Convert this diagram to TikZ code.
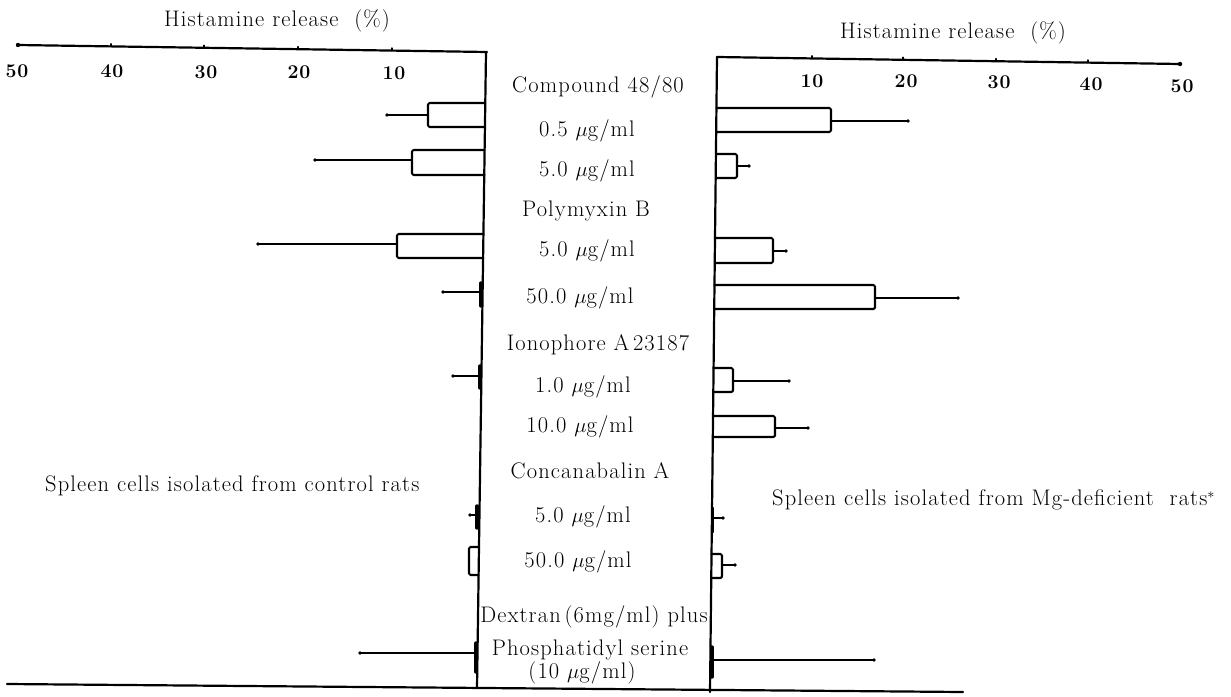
\documentclass[tikz,border=0pt]{standalone}
\usepackage{fontspec}
\setmainfont{Latin Modern Roman}[LetterSpace=5.0]
\newcommand{\LRbar}[6]{% base x, y1, y2, end x, whisker end x, whisker y
  \draw[barbox] (#1,#2) -- (#4,#2) -- (#4,#3) -- (#1,#3);
  \draw[whisk] (#4,#6) -- (#5,#6);
  \fill (#5,#6) circle (1.9pt);}
\newcommand{\Tinybar}[5]{% base x, y1, y2, whisker end x, whisker y
  \draw[line width=3.4pt] (#1,#2) -- (#1,#3);
  \draw[whisk] (#1,#5) -- (#4,#5);
  \fill (#4,#5) circle (1.9pt);}
\begin{document}
\begin{tikzpicture}[x=1pt,y=-1pt,line cap=round,line join=round,
  axis/.style={line width=2.2pt},
  barbox/.style={line width=2.1pt,rounded corners=1.5pt},
  whisk/.style={line width=1.6pt},
  tickmark/.style={line width=1.6pt},
  lab/.style={font=\fontsize{22.5}{26}\selectfont,inner sep=0pt},
  ticklab/.style={font=\fontsize{19.5}{22}\selectfont\bfseries,inner sep=0pt}]
\useasboundingbox (0,0) rectangle (1231,696);
% axes and frame
\coordinate (LA0) at (18,45);
\coordinate (LA1) at (487,52);
\coordinate (RA0) at (717,57);
\coordinate (RA1) at (1180,64);
\coordinate (LT) at (486,52);
\coordinate (LB) at (477,688);
\coordinate (RT) at (717,57);
\coordinate (RB) at (710,692);
\coordinate (B0) at (7,684);
\coordinate (B1) at (963,692);
\draw[axis] (LA0) -- (LA1);
\draw[axis] (RA0) -- (RA1);
\draw[axis] (LT) -- (LB);
\draw[axis] (RT) -- (RB);
\draw[axis] (B0) -- (B1);
\fill (LA0) circle (2.2pt);
\fill (RA1) circle (2.2pt);
% ticks
\foreach \x/\y in {111/46.4,204/47.8,298/49.2,392/50.6}
  \draw[tickmark] (\x,\y) -- ++(0,-2.5);
\foreach \x/\y in {812/58.4,903/59.8,996/61.2,1088/62.6}
  \draw[tickmark] (\x,\y) -- ++(0,-2.5);
% tick labels
\node[ticklab] (l50) at (17,71) {50};
\node[ticklab] (l40) at (112,71) {40};
\node[ticklab] (l30) at (206,72) {30};
\node[ticklab] (l20) at (299,72) {20};
\node[ticklab] (l10) at (394,73) {10};
\node[ticklab] (r10) at (812,81) {10};
\node[ticklab] (r20) at (906,81) {20};
\node[ticklab] (r30) at (999,82) {30};
\node[ticklab] (r40) at (1091,84) {40};
\node[ticklab] (r50) at (1182,86) {50};
% titles
\node[lab] (tl) at (277,21) {Histamine release\ \ (\%)};
\node[lab] (tr) at (953,33) {Histamine release\ \ (\%)};
% centre labels
\node[lab] (c1) at (598,87) {Compound 48/80};
\node[lab] (c2) at (587,131) {0.5 $\mu$g/ml};
\node[lab] (c3) at (587,171) {5.0 $\mu$g/ml};
\node[lab] (c4) at (586,211) {Polymyxin B};
\node[lab] (c5) at (587,251) {5.0 $\mu$g/ml};
\node[lab] (c6) at (580,298) {50.0 $\mu$g/ml};
\node[lab] (c7) at (598,345) {Ionophore A\,23187};
\node[lab] (c8) at (583,387) {1.0 $\mu$g/ml};
\node[lab] (c9) at (580,427) {10.0 $\mu$g/ml};
\node[lab] (c10) at (590,471) {Concanabalin A};
\node[lab] (c11) at (583,517) {5.0 $\mu$g/ml};
\node[lab] (c12) at (578,562) {50.0 $\mu$g/ml};
\node[lab] (c13) at (594,617) {Dextran\,(6mg/ml) plus};
\node[lab] (c14) at (590,650) {Phosphatidyl serine};
\node[lab] (c15) at (582,673) {(10 $\mu$g/ml)};
% side labels
\node[lab,anchor=west] (sl) at (45,486) {Spleen cells isolated from control rats};
\node[lab,anchor=west] (sr) at (772,500) {Spleen cells isolated from Mg-deficient\ \ rats$^{*}$};
% left bars
\LRbar{485.1}{103}{127}{428}{387}{115}
\LRbar{484.5}{150}{175}{412}{315}{160}
\LRbar{483.3}{234}{258}{397}{258}{244}
\Tinybar{481}{283}{306}{443}{292}
\Tinybar{480}{366}{388}{453}{376}
\Tinybar{477}{506}{528}{470}{515}
\draw[barbox] (478.5,547) -- (469,547) -- (469,575) -- (478.5,575);
\Tinybar{476}{643}{672}{360}{653}
% right bars
\LRbar{716.3}{108}{132}{831}{908}{121}
\LRbar{715.8}{154}{178}{737}{749}{166}
\LRbar{714.9}{238}{263}{773}{786}{251}
\LRbar{714.4}{285}{309}{875}{958}{298}
\LRbar{713.4}{368}{392}{733}{789}{381}
\LRbar{712.9}{416}{437}{775}{808}{428}
\Tinybar{712.5}{508}{532}{723}{518}
\LRbar{711.4}{554}{578}{722}{735}{565}
\Tinybar{712}{647}{677}{874}{660}
\end{tikzpicture}
\end{document}
